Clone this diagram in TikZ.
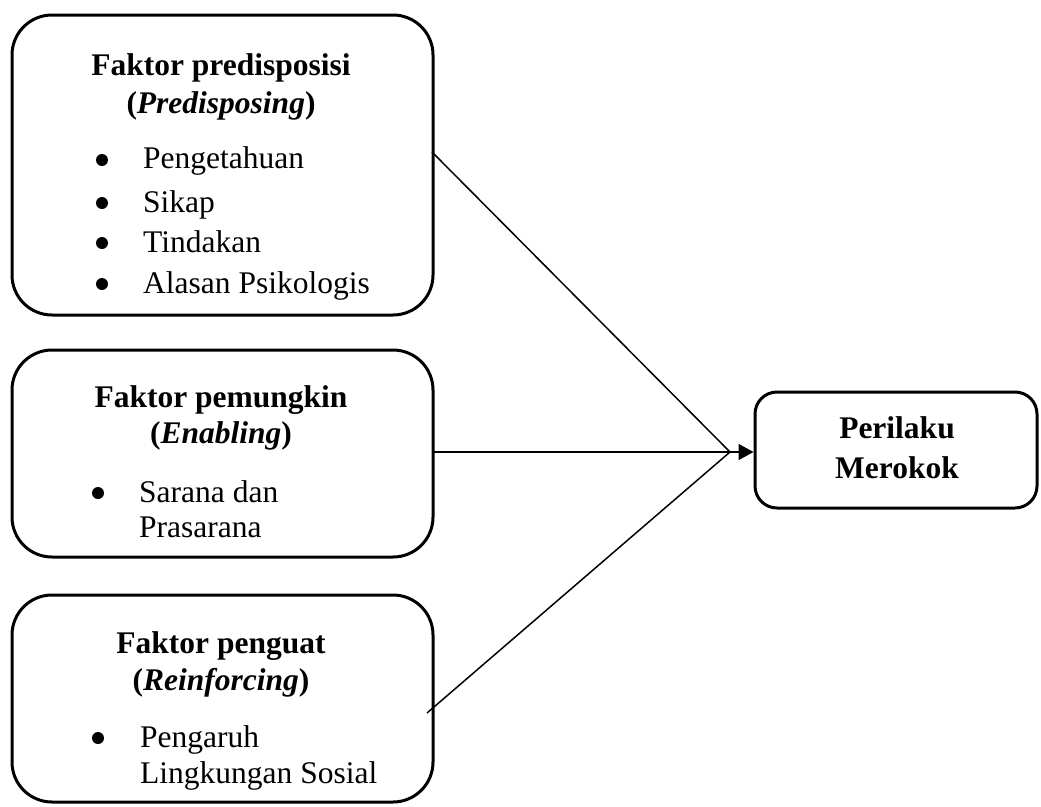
\documentclass[tikz,border=0pt]{standalone}
\usepackage{fontspec}
\setmainfont{Liberation Serif}
\usetikzlibrary{arrows.meta}
\begin{document}
\begin{tikzpicture}[x=1pt,y=-1pt,
  box/.style={draw,line width=3pt,rounded corners=40pt,inner sep=0pt},
  rbox/.style={draw,line width=3pt,rounded corners=22pt,inner sep=0pt},
  txt/.style={inner sep=0pt,anchor=base,font=\fontsize{31.5}{38}\selectfont},
  itm/.style={inner sep=0pt,anchor=base west,font=\fontsize{31.5}{38}\selectfont},
  bul/.style={circle,fill,inner sep=0pt,minimum size=12pt},
  conn/.style={line width=1.5pt}]
\useasboundingbox (0,0) rectangle (1041,806);
% boxes
\node[box,minimum width=421pt,minimum height=300pt] (b1) at (222.5,165) {};
\node[box,minimum width=421pt,minimum height=207pt] (b2) at (222.5,453.5) {};
\node[box,minimum width=421pt,minimum height=207pt] (b3) at (222.5,698.5) {};
\node[rbox,minimum width=282pt,minimum height=116pt] (r) at (896,450) {};
% box 1 text
\node[txt] (t1a) at (221,75) {\textbf{Faktor predisposisi}};
\node[txt] (t1b) at (221,113) {\textbf{(\textit{Predisposing})}};
\node[bul] (u1) at (102,160) {};
\node[itm] (i1) at (143,168) {Pengetahuan};
\node[bul] (u2) at (102,203) {};
\node[itm] (i2) at (143,212) {Sikap};
\node[bul] (u3) at (102,243) {};
\node[itm] (i3) at (143,252) {Tindakan};
\node[bul] (u4) at (102,284) {};
\node[itm] (i4) at (143,293) {Alasan Psikologis};
% box 2 text
\node[txt] (t2a) at (221,407) {\textbf{Faktor pemungkin}};
\node[txt] (t2b) at (221,443) {\textbf{(\textit{Enabling})}};
\node[bul] (u5) at (98,493) {};
\node[itm] (i5) at (139,502) {Sarana dan};
\node[itm] (i6) at (139,537) {Prasarana};
% box 3 text
\node[txt] (t3a) at (221,653) {\textbf{Faktor penguat}};
\node[txt] (t3b) at (221,690) {\textbf{(\textit{Reinforcing})}};
\node[bul] (u6) at (98,738) {};
\node[itm] (i7) at (140,747) {Pengaruh};
\node[itm] (i8) at (140,783) {Lingkungan Sosial};
% result text
\node[txt] (ra) at (897,438) {\textbf{Perilaku}};
\node[txt] (rb) at (897,478) {\textbf{Merokok}};
% connectors
\coordinate (s1) at (432,152);
\coordinate (s2) at (432,452);
\coordinate (s3) at (427,713);
\coordinate (m) at (730,452);
\coordinate (e) at (r.west |- m);
\draw[conn] (s1) -- (m);
\draw[conn] (s2) -- (m);
\draw[conn] (s3) -- (m);
\draw[conn,-{Triangle[length=15pt,width=16pt]}] (m) -- (e);
\end{tikzpicture}
\end{document}
